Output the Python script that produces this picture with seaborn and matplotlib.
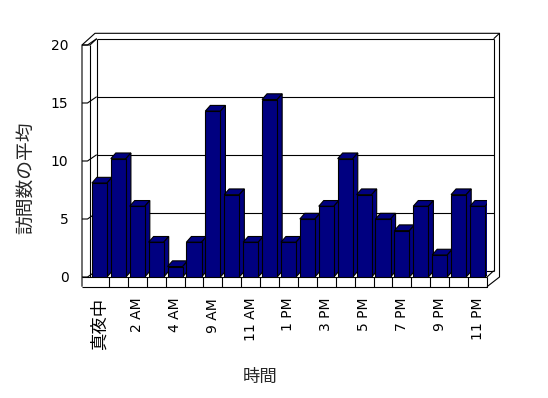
import matplotlib
matplotlib.use('Agg')
import matplotlib.pyplot as plt
import seaborn as sns
import pandas as pd
from matplotlib.patches import Polygon

# ---- data ----
hours = ['真夜中', '1 AM', '2 AM', '3 AM', '4 AM', '8 AM', '9 AM', '10 AM', '11 AM', '正午',
         '1 PM', '2 PM', '3 PM', '4 PM', '5 PM', '6 PM', '7 PM', '8 PM', '9 PM', '10 PM', '11 PM']
visits = [8.1, 10.2, 6.1, 3, 0.9, 3, 14.3, 7.1, 3, 15.3,
          3, 5, 6.1, 10.2, 7.1, 5, 4, 6.1, 1.9, 7.1, 6.1]
y_ticks = [0, 5, 10, 15, 20]
x_title = '時間'
y_title = '訪問数の平均'

sns.set_theme(style='white')
plt.rcParams['font.family'] = ['DejaVu Sans', 'Noto Sans CJK JP']

W, H = 548, 398
fig = plt.figure(figsize=(W / 100, H / 100), dpi=100)
fig.patch.set_facecolor('white')
L, R, B, T = 90, 487, 277, 45   # front plane of the plot box, pixels
ax = fig.add_axes([L / W, 1 - B / H, (R - L) / W, (B - T) / H])
ax.patch.set_alpha(0)

df = pd.DataFrame({'hour': hours, 'visits': visits})
sns.barplot(data=df, x='hour', y='visits', color='#000080', saturation=1,
            width=0.8, edgecolor='black', linewidth=0.8, ax=ax)

n = len(hours)
X0, X1, Y0, Y1 = -0.5, n - 0.5, 0, y_ticks[-1]
ax.set_xlim(X0, X1)
ax.set_ylim(Y0, Y1)
for s in ax.spines.values():
    s.set_visible(False)

ppx = (R - L) / n
ppy = (B - T) / (Y1 - Y0)
u = lambda px: px / ppx
v = lambda px: px / ppy

# ---- 3D faces of bars ----
bdx, bdy = u(5), v(5.7)
for i, p in enumerate(ax.patches):
    x, w, h = p.get_x(), p.get_width(), p.get_height()
    z = 2 + i * 0.01
    p.set_zorder(z + 0.005)
    top = Polygon([(x, h), (x + w, h), (x + w + bdx, h + bdy), (x + bdx, h + bdy)],
                  closed=True, facecolor='#000080', edgecolor='black', lw=0.8, zorder=z)
    side = Polygon([(x + w, 0), (x + w + bdx, bdy), (x + w + bdx, h + bdy), (x + w, h)],
                   closed=True, facecolor='#000080', edgecolor='black', lw=0.8, zorder=z)
    ax.add_patch(top)
    ax.add_patch(side)

# ---- walls / floor frame ----
DX, DY = u(6.7), v(6.3)
TL = u(8)
FT = v(9.7)
OX, OY = u(12.5), v(11.7)
kw = dict(color='black', lw=0.8, clip_on=False, zorder=1, solid_capstyle='butt')

def seg(pts):
    xs, ys = zip(*pts)
    ax.plot(xs, ys, **kw)

seg([(X0 + DX, Y1 + DY), (X1 + DX, Y1 + DY)])
seg([(X1 + DX, Y1 + DY), (X1 + DX, Y0 + DY)])
seg([(X0 + DX, Y0 + DY), (X0 + DX, Y1 + DY)])
seg([(X0 + DX, Y0 + DY), (X1 + DX, Y0 + DY)])
for g in y_ticks[1:-1]:
    seg([(X0 + DX, g + DY), (X1 + DX, g + DY)])
for g in y_ticks:
    seg([(X0 - TL, g), (X0 - u(2.5), g), (X0 + DX, g + DY)])
seg([(X0 - TL, Y1), (X0 - TL + u(13), Y1 + OY), (X1 + OX, Y1 + OY), (X1 + OX, Y0), (X1, Y0 - FT)])
seg([(X0 - TL, Y0 - FT), (X0 - TL, Y1), (X0, Y1), (X0 + DX, Y1 + DY)])
seg([(X0, Y0), (X0, Y1)])
seg([(X1 + DX, Y1 + DY), (X1 + OX, Y1 + OY)])
seg([(X0 - TL, Y0), (X1, Y0)])
seg([(X0 - TL, Y0 - FT), (X1, Y0 - FT), (X1, Y0)])
for k in range(1, n):
    seg([(X0 + k, Y0 - FT), (X0 + k, Y0)])
seg([(X1, Y0), (X1 + DX, Y0 + DY)])

# ---- ticks & labels ----
ax.set_yticks(y_ticks)
ax.set_yticklabels([str(t) for t in y_ticks], fontsize=10)
ax.set_xticks(list(range(0, n, 2)))
ax.set_xticklabels(hours[::2], rotation=90)
for lbl in ax.get_xticklabels():
    cjk = any(ord(c) > 0x2E80 for c in lbl.get_text())
    lbl.set_fontsize(12.5 if cjk else 10)
ax.tick_params(axis='both', length=0, colors='black')
ax.tick_params(axis='y', pad=15.5)
ax.tick_params(axis='x', pad=15)
ax.set_xlabel('')
ax.set_ylabel('')

fig.text(27 / W, 1 - 178 / H, y_title, rotation=90, ha='center', va='center',
         fontsize=13.5, family=['Noto Sans CJK JP', 'DejaVu Sans'])
fig.text(260 / W, 1 - 377 / H, x_title, ha='center', va='center',
         fontsize=12.5, family=['Noto Sans CJK JP', 'DejaVu Sans'])

fig.savefig('out.png', dpi=100, facecolor='white')
